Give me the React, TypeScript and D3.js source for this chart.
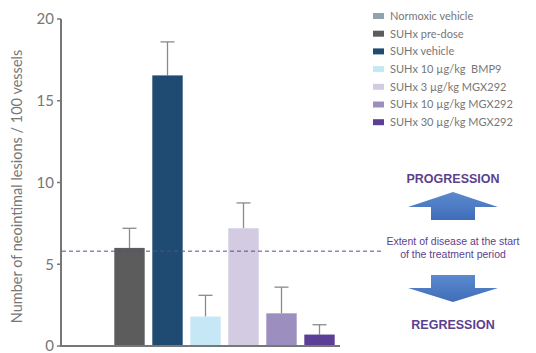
import React from "react";
import * as d3 from "d3";

const categories = [
  "Normoxic vehicle",
  "SUHx pre-dose",
  "SUHx vehicle",
  "SUHx 10 µg/kg  BMP9",
  "SUHx 3 µg/kg MGX292",
  "SUHx 10 µg/kg MGX292",
  "SUHx 30 µg/kg MGX292",
];
const means = [0, 6.0, 16.55, 1.8, 7.2, 2.0, 0.7];
const errors = [0, 1.2, 2.05, 1.3, 1.55, 1.6, 0.6];
const colors = ["#8fa3ad", "#5c5c5c", "#1f4b72", "#c6e7f6", "#d2cbe2", "#9c8fc0", "#5b3f96"];
const yTicks = [0, 5, 10, 15, 20];
const baselineValue = 5.8;

export default function App() {
  const W = 536, H = 353;
  const x = d3.scaleBand<string>().domain(categories).range([72.5, 338.5]).paddingInner(0.2).paddingOuter(0.1);
  const y = d3.scaleLinear().domain([0, 20]).range([346, 19]);
  const font = "Lato, 'Open Sans', sans-serif";
  const arial = "'Liberation Sans', Arial, sans-serif";
  const grey = "#777";
  const purple = "#5d3f8e";
  const cx = 453;
  return (
    <svg width={W} height={H} style={{ position: "absolute", left: 0, top: 0, background: "#fff" }} fontFamily={font}>
      <defs>
        <linearGradient id="ag" x1="0" y1="0" x2="0" y2="1">
          <stop offset="0" stopColor="#5b8ad0" />
          <stop offset="1" stopColor="#3f6db8" />
        </linearGradient>
      </defs>
      {/* bars */}
      {categories.map((c, i) => {
        const x0 = x(c)!;
        const bw = x.bandwidth();
        const mid = x0 + bw / 2;
        if (means[i] <= 0) return null;
        return (
          <g key={c}>
            <line x1={mid} x2={mid} y1={y(means[i])} y2={y(means[i] + errors[i])} stroke="#8a8a8a" strokeWidth={1.3} />
            <line x1={mid - 7} x2={mid + 7} y1={y(means[i] + errors[i])} y2={y(means[i] + errors[i])} stroke="#8a8a8a" strokeWidth={1.3} />
            <rect x={x0} y={y(means[i])} width={bw} height={y(0) - y(means[i])} fill={colors[i]} />
          </g>
        );
      })}
      {/* dashed baseline */}
      <line x1={62} x2={382} y1={y(baselineValue)} y2={y(baselineValue)} stroke="#5a4a90" strokeWidth={1} strokeDasharray="4,3" />
      {/* axes */}
      <line x1={61} x2={61} y1={y(20)} y2={y(0) + 1} stroke={grey} strokeWidth={2} />
      <line x1={60} x2={340} y1={y(0)} y2={y(0)} stroke={grey} strokeWidth={2} />
      {yTicks.map((t) => (
        <g key={t}>
          <line x1={57} x2={61} y1={y(t)} y2={y(t)} stroke={grey} strokeWidth={1.5} />
          <text x={54} y={y(t)} dy="0.35em" textAnchor="end" fontSize={15} fill={grey}>{t}</text>
        </g>
      ))}
      <text transform={`translate(22,${(y(0) + y(20)) / 2 + 4}) rotate(-90)`} textAnchor="middle" fontSize={14.5} fill={grey}>
        Number of neointimal lesions / 100 vessels
      </text>
      {/* legend */}
      {categories.map((c, i) => (
        <g key={"l" + c} transform={`translate(373,${16 + i * 17.7})`}>
          <rect x={0} y={-3} width={11} height={6} fill={colors[i]} />
          <text x={17} y={0} dy="0.35em" fontSize={11} fill={grey} style={{ whiteSpace: "pre" }}>{c}</text>
        </g>
      ))}
      {/* annotations */}
      <text x={cx} y={179} dy="0.35em" textAnchor="middle" fontSize={12.5} fontWeight="bold" fontFamily={arial} fill={purple}>PROGRESSION</text>
      <path d={`M${cx},192 L${cx + 45},207 L${cx + 22},207 L${cx + 22},220 L${cx - 22},220 L${cx - 22},207 L${cx - 45},207 Z`} fill="url(#ag)" />
      <text x={cx} y={241} dy="0.35em" textAnchor="middle" fontSize={10.5} fontFamily={arial} fill={purple}>Extent of disease at the start</text>
      <text x={cx} y={254} dy="0.35em" textAnchor="middle" fontSize={10.5} fontFamily={arial} fill={purple}>of the treatment period</text>
      <path d={`M${cx - 22},275 L${cx + 22},275 L${cx + 22},288 L${cx + 45},288 L${cx},302 L${cx - 45},288 L${cx - 22},288 Z`} fill="url(#ag)" />
      <text x={cx} y={325} dy="0.35em" textAnchor="middle" fontSize={12.5} fontWeight="bold" fontFamily={arial} fill={purple}>REGRESSION</text>
    </svg>
  );
}
